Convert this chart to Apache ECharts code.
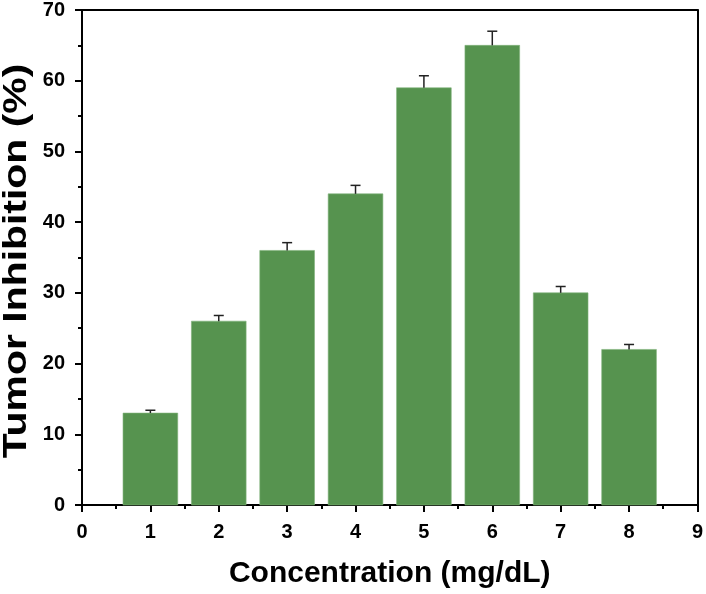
<!DOCTYPE html>
<html>
<head>
<meta charset="utf-8">
<script src="https://cdn.jsdelivr.net/npm/echarts@6/dist/echarts.min.js"></script>
<style>html,body{margin:0;padding:0;background:#fff}#c{width:706px;height:594px}</style>
</head>
<body>
<div id="c"></div>
<script>
var concentrations = [1, 2, 3, 4, 5, 6, 7, 8];
var inhibition = [13, 26, 36, 44, 59, 65, 30, 22];
var errors = [0.4, 0.8, 1.1, 1.2, 1.7, 2.0, 0.9, 0.7];
var xTicks = [0, 1, 2, 3, 4, 5, 6, 7, 8, 9];
var yTicks = [0, 10, 20, 30, 40, 50, 60, 70];
var xTitle = 'Concentration (mg/dL)';
var yTitle = 'Tumor Inhibition (%)';

var FONT = '"Liberation Sans", Arial, sans-serif';
var barData = concentrations.map(function (c, i) { return [c, inhibition[i]]; });
var errData = concentrations.map(function (c, i) { return [c, inhibition[i], errors[i]]; });
var xMin = xTicks[0], xMax = xTicks[xTicks.length - 1];
var yMin = yTicks[0], yMax = yTicks[yTicks.length - 1];

function mainAxis(extra) {
  var a = {
    type: 'value',
    axisLine: {show: true, onZero: false, lineStyle: {color: '#000', width: 2}},
    axisTick: {show: true, length: 7, lineStyle: {color: '#000', width: 2}},
    splitLine: {show: false},
    axisLabel: {show: true, margin: 17, color: '#000', fontFamily: FONT, fontWeight: 'bold', fontSize: 20}
  };
  for (var k in extra) a[k] = extra[k];
  return a;
}
function frameAxis(extra) {
  var a = {
    type: 'value',
    axisLine: {show: true, onZero: false, lineStyle: {color: '#000', width: 2}},
    axisTick: {show: false},
    axisLabel: {show: false},
    splitLine: {show: false}
  };
  for (var k in extra) a[k] = extra[k];
  return a;
}
function minorAxis(extra) {
  var a = {
    type: 'value',
    axisLine: {show: false, onZero: false},
    axisTick: {show: true, length: 4, lineStyle: {color: '#000', width: 2}},
    axisLabel: {show: false},
    splitLine: {show: false}
  };
  for (var k in extra) a[k] = extra[k];
  return a;
}

var chart = echarts.init(document.getElementById('c'), null, {renderer: 'canvas'});
chart.setOption({
  animation: false,
  grid: {left: 82, top: 10, right: 6, bottom: 88},
  xAxis: [
    mainAxis({
      position: 'bottom', min: xMin, max: xMax, interval: 1,
      name: xTitle, nameLocation: 'middle', nameGap: 54,
      nameTextStyle: {color: '#000', fontFamily: FONT, fontWeight: 'bold', fontSize: 30}
    }),
    frameAxis({position: 'top', min: xMin, max: xMax}),
    minorAxis({position: 'bottom', min: xMin, max: xMax, interval: 0.5})
  ],
  yAxis: [
    mainAxis({position: 'left', min: yMin, max: yMax, interval: 10}),
    frameAxis({position: 'right', min: yMin, max: yMax}),
    minorAxis({position: 'left', min: yMin, max: yMax, interval: 5})
  ],
  graphic: [{
    type: 'text',
    x: 17,
    y: 261,
    rotation: Math.PI / 2,
    scaleX: 1.24,
    style: {text: yTitle, fill: '#000', font: 'bold 33px ' + FONT, align: 'center', verticalAlign: 'middle'}
  }],
  series: [
    {
      type: 'custom',
      xAxisIndex: 0, yAxisIndex: 0,
      data: barData,
      renderItem: function (params, api) {
        var x = api.value(0), y = api.value(1);
        var p1 = api.coord([x - 0.4, y]);
        var p2 = api.coord([x + 0.4, 0]);
        return {type: 'rect', shape: {x: p1[0], y: p1[1], width: p2[0] - p1[0], height: p2[1] - p1[1]},
          style: {fill: '#56934f', stroke: '#7fb27a', lineWidth: 0.6}};
      },
      z: 2
    },
    {
      type: 'custom',
      xAxisIndex: 0, yAxisIndex: 0,
      data: errData,
      renderItem: function (params, api) {
        var x = api.value(0), y = api.value(1), e = api.value(2);
        var base = api.coord([x, y]);
        var top = api.coord([x, y + e]);
        return {type: 'group', children: [
          {type: 'line', shape: {x1: base[0], y1: base[1], x2: top[0], y2: top[1]}, style: {stroke: '#222', lineWidth: 1.5}},
          {type: 'line', shape: {x1: top[0] - 5, y1: top[1], x2: top[0] + 5, y2: top[1]}, style: {stroke: '#222', lineWidth: 1.5}}
        ]};
      },
      z: 3
    }
  ]
});
</script>
</body>
</html>
